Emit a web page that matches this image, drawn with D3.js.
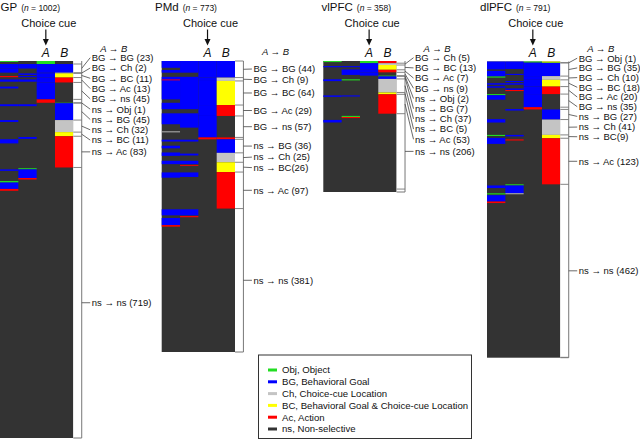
<!DOCTYPE html>
<html><head><meta charset="utf-8">
<script src="https://cdn.jsdelivr.net/npm/d3@7"></script>
<style>
body{margin:0;background:#fff;}
svg{display:block;font-family:"Liberation Sans",Arial,Helvetica,sans-serif;}
</style></head><body>
<svg id="chart" width="640" height="440"></svg>
<script>
// ---------- data ----------
const categories = ["Obj","BG","Ch","BC","Ac","ns"];
const categoryNames = ["Object","Behavioral Goal","Choice-cue Location","Behavioral Goal & Choice-cue Location","Action","Non-selective"];
const categoryColors = ["#22dd22","#0000ff","#c4c4c4","#ffff00","#ff0000","#333333"];
const epochs = ["E1","E2","A","B"];
const regions = ["GP","PMd","vlPFC","dlPFC"];
const regionN = [1002,773,358,791];

// [category in A, category in B, neuron count, label]
const gpGroups = [
  ["Obj","ns",8,null],
  ["BG","BG",23,"BG → BG (23)"],
  ["BG","Ch",2,"BG → Ch (2)"],
  ["BG","BC",11,"BG → BC (11)"],
  ["BG","Ac",13,"BG → Ac (13)"],
  ["BG","ns",45,"BG → ns (45)"],
  ["Ac","ns",9,null],
  ["ns","Obj",1,"ns → Obj (1)"],
  ["ns","BG",45,"ns → BG (45)"],
  ["ns","Ch",32,"ns → Ch (32)"],
  ["ns","BC",11,"ns → BC (11)"],
  ["ns","Ac",83,"ns → Ac (83)"],
  ["ns","ns",719,"ns → ns (719)"]
];
const pmdGroups = [
  ["BG","BG",44,"BG → BG (44)"],
  ["BG","Ch",9,"BG → Ch (9)"],
  ["BG","BC",64,"BG → BC (64)"],
  ["BG","Ac",29,"BG → Ac (29)"],
  ["BG","ns",57,"BG → ns (57)"],
  ["Ac","Ac",5,null],
  ["ns","BG",36,"ns → BG (36)"],
  ["ns","Ch",25,"ns → Ch (25)"],
  ["ns","BC",26,"ns → BC(26)"],
  ["ns","Ac",97,"ns → Ac (97)"],
  ["ns","ns",381,"ns → ns (381)"]
];
const vlpfcGroups = [
  ["Obj","Ac",6,null],
  ["BG","Ch",5,"BG → Ch (5)"],
  ["BG","BC",13,"BG → BC (13)"],
  ["BG","Ac",7,"BG → Ac (7)"],
  ["BG","ns",9,"BG → ns (9)"],
  ["ns","Obj",2,"ns → Obj (2)"],
  ["ns","BG",7,"ns → BG (7)"],
  ["ns","Ch",37,"ns → Ch (37)"],
  ["ns","BC",5,"ns → BC (5)"],
  ["ns","Ac",53,"ns → Ac (53)"],
  ["ns","ns",206,"ns → ns (206)"]
];
const dlpfcGroups = [
  ["Obj","BC",3,null],
  ["BG","Obj",1,"BG → Obj (1)"],
  ["BG","BG",35,"BG → BG (35)"],
  ["BG","Ch",10,"BG → Ch (10)"],
  ["BG","BC",18,"BG → BC (18)"],
  ["BG","Ac",20,"BG → Ac (20)"],
  ["BG","ns",35,"BG → ns (35)"],
  ["Ac","ns",6,null],
  ["ns","BG",27,"ns → BG (27)"],
  ["ns","Ch",41,"ns → Ch (41)"],
  ["ns","BC",9,"ns → BC(9)"],
  ["ns","Ac",123,"ns → Ac (123)"],
  ["ns","ns",462,"ns → ns (462)"]
];

// selective neurons in the two earlier epochs: [epoch index, first row, last row, category]
const gpEarly = [
  [0,0,2,"Obj"],[0,8,20,"BG"],[1,8,20,"BG"],[0,20,31,"BG"],[1,33,37,"BG"],
  [0,40,43,"Ac"],[1,40,43,"BG"],[0,49,55,"BG"],[1,49,55,"BG"],[0,68,73,"BG"],
  [0,115,120,"BG"],[1,115,120,"BG"],[0,157,162,"BG"],[1,202,207,"BG"],[0,208,219,"BG"],
  [1,285,288,"Obj"],[1,288,311,"BG"],[1,311,315,"Ac"],[0,288,292,"BG"],
  [0,319,323,"Obj"],[0,323,340,"BG"],[0,340,345,"Ac"]
];
const pmdEarly = [
  [0,0,18,"BG"],[0,24,31,"BG"],[0,42,102,"BG"],[0,111,128,"BG"],[0,139,168,"BG"],
  [0,49,51,"Ac"],[0,187,189,"Ch"],
  [1,0,31,"BG"],[1,42,128,"BG"],[1,139,177,"BG"],
  [0,209,214,"BG"],[1,209,214,"BG"],[0,225,232,"BG"],[0,243,252,"BG"],[1,246,251,"BG"],
  [0,265,274,"BG"],[1,265,274,"BG"],[1,276,278,"Ac"],[0,296,310,"BG"],[1,296,308,"BG"],
  [0,394,410,"BG"],[1,394,410,"BG"],[1,412,415,"Ac"],[0,417,436,"BG"],[0,436,440,"Ac"]
];
const vlpfcEarly = [
  [0,0,3,"Obj"],[0,14,17,"BG"],[1,14,17,"BG"],[1,23,38,"BG"],
  [0,50,55,"BG"],[1,50,53,"Obj"],[0,94,98,"BG"],[1,94,97,"BG"],
  [1,150,153,"Obj"],[1,153,156,"Ac"],[0,161,168,"BG"]
];
const dlpfcEarly = [
  [0,0,21,"BG"],[1,0,20,"BG"],[0,25,40,"BG"],[0,40,43,"Obj"],[1,33,36,"BG"],[1,52,55,"BG"],
  [0,58,62,"BG"],[1,58,62,"BG"],[0,66,70,"BG"],[1,72,76,"BG"],[1,76,79,"Ac"],
  [0,87,90,"Obj"],[0,90,102,"BG"],[1,127,131,"BG"],[0,154,163,"BG"],
  [0,196,199,"Obj"],[1,196,200,"BG"],[0,204,220,"BG"],[1,208,211,"Ac"],
  [1,328,331,"Obj"],[1,331,352,"BG"],[1,352,354,"Ch"],
  [0,331,338,"BG"],[0,352,355,"Obj"],[0,357,374,"BG"],[0,374,378,"Ac"]
];
const groupTable = [gpGroups, pmdGroups, vlpfcGroups, dlpfcGroups];
const earlyTable = [gpEarly, pmdEarly, vlpfcEarly, dlpfcEarly];

// ---------- layout ----------
const layout = {
  GP:    {left:0,     top:61,   bottom:438,   titleX:0.5,   gap:10.3},
  PMd:   {left:161.7, top:61,   bottom:352,   titleX:155,   gap:10.5},
  vlPFC: {left:323.3, top:61,   bottom:192,   titleX:321.5, gap:10.2},
  dlPFC: {left:487,   top:61.5, bottom:357.7, titleX:480,   gap:9.7}
};
const COLW = 18.33, STRIPW = 8.4, LABELFONT = 9.5;

const svg = d3.select("#chart");
const colorOf = c => categoryColors[categories.indexOf(c)];

// isotonic label placement (min gap, lower bound)
function placeLabels(targets, gap, minY){
  const z = targets.map((t,i)=>t - i*gap);
  const blocks = [];
  z.forEach(v=>{
    blocks.push({sum:v, n:1});
    while(blocks.length>1){
      const b = blocks[blocks.length-1], a = blocks[blocks.length-2];
      if (a.sum/a.n > b.sum/b.n){ a.sum+=b.sum; a.n+=b.n; blocks.pop(); } else break;
    }
  });
  const out = [];
  blocks.forEach(b=>{ for(let k=0;k<b.n;k++) out.push(b.sum/b.n); });
  // enforce lower bound while keeping the gaps
  let floor = minY;
  return out.map((v,i)=>{ const yv = Math.max(v + i*gap, floor); floor = yv + gap; return yv; });
}

regions.forEach((r, ri) => {
  const L = layout[r];
  const n = regionN[ri];
  const x = d3.scaleBand().domain(epochs).range([L.left, L.left + 4*COLW]);
  const y = d3.scaleLinear().domain([0, n]).range([L.top, L.bottom]);
  const right = x.range()[1];
  const g = svg.append("g");

  let start = 0;
  const rows = groupTable[ri].map(([a,b,c,label]) => { const o={a,b,c,label,s:start,e:start+c}; start+=c; return o; });

  // panel background (non-selective)
  g.append("rect").attr("x", L.left).attr("y", y(0)).attr("width", right-L.left)
    .attr("height", y(n)-y(0)).attr("fill", colorOf("ns"));

  const cells = [];
  rows.forEach(d => {
    if (d.a !== "ns") cells.push({ep:"A", s:d.s, e:d.e, cat:d.a});
    if (d.b !== "ns") cells.push({ep:"B", s:d.s, e:d.e, cat:d.b});
  });
  earlyTable[ri].forEach(([ei,s,e,cat]) => cells.push({ep:epochs[ei], s, e, cat}));
  g.selectAll("rect.cell").data(cells).join("rect").attr("class","cell")
    .attr("x", d=>x(d.ep)).attr("width", x.bandwidth())
    .attr("y", d=>y(d.s)).attr("height", d=>Math.max(y(d.e)-y(d.s), 0.9))
    .attr("fill", d=>colorOf(d.cat));

  // label strip
  g.append("rect").attr("x", right).attr("y", y(0)).attr("width", STRIPW)
    .attr("height", y(n)-y(0)).attr("fill", "#fff");
  g.append("path").attr("d", `M${right+STRIPW},${y(0)}V${y(n)}H${right}`)
    .attr("fill","none").attr("stroke","#777").attr("stroke-width",1);
  const labelled = rows.filter(d=>d.label);
  const bounds = Array.from(new Set(labelled.flatMap(d=>[d.s,d.e]))).filter(v=>v<n);
  g.selectAll("line.bound").data(bounds).join("line").attr("class","bound")
    .attr("x1", right).attr("x2", right+STRIPW).attr("y1", d=>y(d)).attr("y2", d=>y(d))
    .attr("stroke","#777").attr("stroke-width",0.9);

  // labels
  const mids = labelled.map(d=>y((d.s+d.e)/2));
  const ly = placeLabels(mids, L.gap, L.top-3.3);
  const lx = right + STRIPW + 10;
  labelled.forEach((d,i)=>{
    g.append("line").attr("x1", right+STRIPW).attr("y1", mids[i])
      .attr("x2", lx-1.5).attr("y2", ly[i]).attr("stroke","#444").attr("stroke-width",0.8);
    g.append("text").attr("x", lx).attr("y", ly[i]).attr("dy","0.35em")
      .attr("font-size", LABELFONT).attr("fill","#111").text(d.label);
  });
  const hy = Math.min(52, ly[0]-9.5);
  g.append("text").attr("x", lx+8.5).attr("y", hy).attr("dy","0.35em")
    .attr("font-size", LABELFONT).attr("font-style","italic").attr("fill","#111").text("A → B");

  // column headers
  ["A","B"].forEach(ep=>{
    g.append("text").attr("x", x(ep)+x.bandwidth()/2).attr("y", 57)
      .attr("text-anchor","middle").attr("font-size",12).attr("font-style","italic")
      .attr("fill","#111").text(ep);
  });
  const ax = x("A")+x.bandwidth()/2;
  g.append("text").attr("x", ax+3).attr("y", 26.5).attr("text-anchor","middle")
    .attr("font-size",11).attr("fill","#111").text("Choice cue");
  g.append("line").attr("x1",ax).attr("x2",ax).attr("y1",29.5).attr("y2",40)
    .attr("stroke","#111").attr("stroke-width",1.2);
  g.append("path").attr("d",`M${ax-3},${39}L${ax+3},${39}L${ax},${45.5}Z`).attr("fill","#111");

  // title
  const t = g.append("text").attr("x", L.titleX).attr("y", 10.5).attr("font-size",11.5).attr("fill","#111");
  t.append("tspan").text(r);
  t.append("tspan").attr("dx",4).attr("font-size",8.5).text("(");
  t.append("tspan").attr("font-size",8.5).attr("font-style","italic").text("n");
  t.append("tspan").attr("font-size",8.5).text(` = ${n})`);
});

// legend
const lg = svg.append("g");
lg.append("rect").attr("x",258.5).attr("y",355).attr("width",213).attr("height",83.5)
  .attr("fill","#fff").attr("stroke","#333").attr("stroke-width",1);
const ly0 = d3.scaleLinear().domain([0,1]).range([370,381.8]);
categories.forEach((c,i)=>{
  lg.append("line").attr("x1",268).attr("x2",277).attr("y1",ly0(i)).attr("y2",ly0(i))
    .attr("stroke",categoryColors[i]).attr("stroke-width",3);
  lg.append("text").attr("x",282).attr("y",ly0(i)).attr("dy","0.35em")
    .attr("font-size",9.6).attr("fill","#111").text(`${c}, ${categoryNames[i]}`);
});
</script>
</body></html>
